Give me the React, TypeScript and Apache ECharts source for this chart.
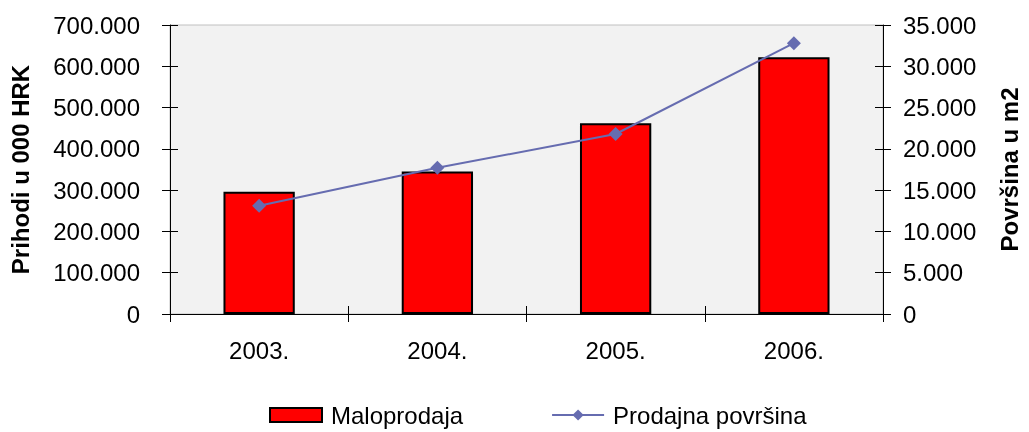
import React, { useEffect, useRef } from "react";
import * as echarts from "echarts";

const categories = ["2003.", "2004.", "2005.", "2006."];
const maloprodaja = [296000, 345000, 462000, 622000];
const prodajnaPovrsina = [13100, 17700, 21800, 32800];

const fmt = (v: number) => {
  if (v === 0) return "0";
  return String(v).replace(/\B(?=(\d{3})+(?!\d))/g, ".");
};

const FONT = "'Liberation Sans', Arial, sans-serif";

export default function App() {
  const ref = useRef<HTMLDivElement>(null);
  useEffect(() => {
    if (!ref.current) return;
    const chart = echarts.init(ref.current, undefined, { renderer: "svg" });
    const tickStyle = { color: "#000", width: 1 };
    chart.setOption({
      animation: false,
      textStyle: { fontFamily: FONT },
      grid: {
        left: 170,
        right: 136,
        top: 25,
        bottom: 118,
        show: true,
        backgroundColor: "#f2f2f2",
        borderColor: "#c0c0c0",
        borderWidth: 1,
      },
      legend: {
        top: 398,
        left: 264,
        itemWidth: 52,
        itemHeight: 14,
        itemGap: 88,
        textStyle: { fontSize: 24, color: "#000", fontFamily: FONT, padding: [0, 0, 0, 4] },
        data: [
          { name: "Maloprodaja", icon: "rect" },
          { name: "Prodajna površina" },
        ],
      },
      xAxis: [
        {
          type: "category",
          data: categories,
          position: "bottom",
          axisLine: { show: true, lineStyle: { color: "#000", width: 1 } },
          axisTick: { show: true, inside: false, length: 8, lineStyle: tickStyle },
          axisLabel: { fontSize: 24, color: "#000", margin: 24, fontFamily: FONT },
          splitLine: { show: false },
        },
        {
          type: "category",
          data: categories,
          position: "bottom",
          axisLine: { show: false },
          axisTick: { show: true, inside: true, length: 8, lineStyle: tickStyle },
          axisLabel: { show: false },
          splitLine: { show: false },
        },
      ],
      yAxis: [
        {
          type: "value",
          position: "left",
          min: 0,
          max: 700000,
          interval: 100000,
          name: "Prihodi u 000 HRK",
          nameLocation: "middle",
          nameGap: 138,
          nameTextStyle: { fontSize: 24, fontWeight: "bold", color: "#000", fontFamily: FONT },
          axisLine: { show: true, lineStyle: { color: "#000", width: 1 } },
          axisTick: { show: true, inside: false, length: 8, lineStyle: tickStyle },
          axisLabel: { fontSize: 24, color: "#000", margin: 30, formatter: fmt, fontFamily: FONT },
          splitLine: { show: false },
        },
        {
          type: "value",
          position: "right",
          min: 0,
          max: 35000,
          interval: 5000,
          name: "Površina u m2",
          nameLocation: "middle",
          nameGap: 114,
          nameRotate: 90,
          nameTextStyle: { fontSize: 24, fontWeight: "bold", color: "#000", fontFamily: FONT },
          axisLine: { show: true, lineStyle: { color: "#000", width: 1 } },
          axisTick: { show: true, inside: false, length: 8, lineStyle: tickStyle },
          axisLabel: { fontSize: 24, color: "#000", margin: 20, formatter: fmt, fontFamily: FONT },
          splitLine: { show: false },
        },
        {
          type: "value",
          position: "left",
          min: 0,
          max: 700000,
          interval: 100000,
          axisLine: { show: false },
          axisTick: { show: true, inside: true, length: 8, lineStyle: tickStyle },
          axisLabel: { show: false },
          splitLine: { show: false },
        },
        {
          type: "value",
          position: "right",
          min: 0,
          max: 35000,
          interval: 5000,
          axisLine: { show: false },
          axisTick: { show: true, inside: true, length: 8, lineStyle: tickStyle },
          axisLabel: { show: false },
          splitLine: { show: false },
        },
      ],
      series: [
        {
          name: "Maloprodaja",
          type: "bar",
          xAxisIndex: 0,
          yAxisIndex: 0,
          data: maloprodaja,
          barWidth: "40%",
          itemStyle: { color: "#ff0000", borderColor: "#000", borderWidth: 2 },
        },
        {
          name: "Prodajna površina",
          type: "line",
          xAxisIndex: 0,
          yAxisIndex: 1,
          data: prodajnaPovrsina,
          symbol: "diamond",
          symbolSize: 14,
          lineStyle: { color: "#666cb0", width: 2 },
          itemStyle: { color: "#666cb0" },
        },
      ],
    });
    return () => chart.dispose();
  }, []);
  return (
    <div
      ref={ref}
      style={{ position: "fixed", left: 0, top: 0, width: 1029, height: 432 }}
    />
  );
}
